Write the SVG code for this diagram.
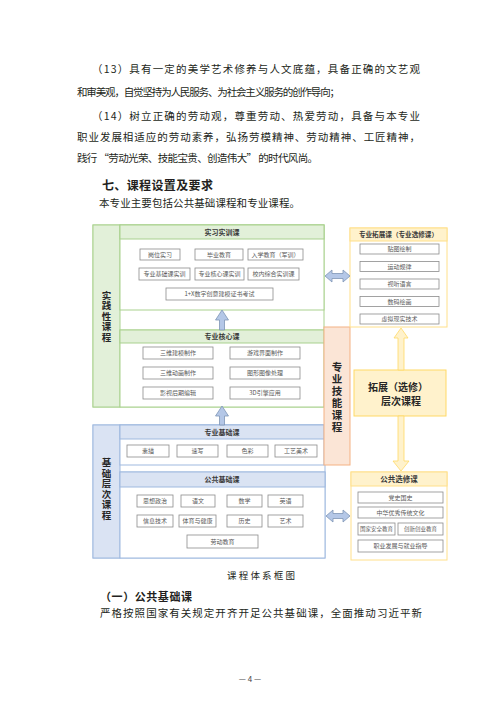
<svg xmlns="http://www.w3.org/2000/svg" width="500" height="707" viewBox="0 0 500 707">
<style>
text{font-family:"Noto Sans CJK SC","Noto Sans",sans-serif}
.body{font-size:10.5px;fill:#231f20}
.bold{font-weight:bold}
.it{font-size:6px;fill:#595959;text-anchor:middle}
.ib{fill:#fff;stroke:#8c8c8c;stroke-width:0.8}
.hdr{font-size:7px;font-weight:bold;fill:#3a3a3a;text-anchor:middle}
.vert{writing-mode:vertical-rl;font-weight:bold;fill:#262626;text-anchor:middle}
.g{stroke:#a9d18e;stroke-width:1}
.b{stroke:#9fb9df;stroke-width:1}
.y{stroke:#ffe08a;stroke-width:1}
.arB{fill:#b4c7e7;stroke:#7f95b5;stroke-width:0.8}
.arY{fill:#fff2cc;stroke:#ffd966;stroke-width:0.8}
</style>
<rect width="500" height="707" fill="#fff"/>

<g id="page-text">
<text class="body" x="92" y="73" textLength="328" lengthAdjust="spacing">（13）具有一定的美学艺术修养与人文底蕴，具备正确的文艺观</text>
<text class="body" x="77" y="96" textLength="263" lengthAdjust="spacing">和审美观，自觉坚持为人民服务、为社会主义服务的创作导向；</text>
<text class="body" x="92" y="120" textLength="328" lengthAdjust="spacing">（14）树立正确的劳动观，尊重劳动、热爱劳动，具备与本专业</text>
<text class="body" x="77" y="141" textLength="343" lengthAdjust="spacing">职业发展相适应的劳动素养，弘扬劳模精神、劳动精神、工匠精神，</text>
<text class="body" x="77" y="162" textLength="241" lengthAdjust="spacing">践行 “劳动光荣、技能宝贵、创造伟大” 的时代风尚。</text>
<text class="body bold" x="102" y="189.5" style="font-size:12px" textLength="111" lengthAdjust="spacing">七、课程设置及要求</text>
<text class="body" x="99" y="207" textLength="201" lengthAdjust="spacing">本专业主要包括公共基础课程和专业课程。</text>
<text class="body" x="227" y="578.5" style="font-size:9.5px" textLength="68" lengthAdjust="spacing">课程体系框图</text>
<text class="body bold" x="100" y="601" style="font-size:11px" textLength="92" lengthAdjust="spacing">（一）公共基础课</text>
<text class="body" x="100" y="617" textLength="322" lengthAdjust="spacing">严格按照国家有关规定开齐开足公共基础课，全面推动习近平新</text>
<text class="body" x="250" y="682" style="font-size:8px;fill:#444" text-anchor="middle">— 4 —</text>
</g>

<g id="practice-group">
<rect class="g" x="93" y="225" width="231" height="182" fill="#fff"/>
<rect class="g" x="93" y="225" width="27" height="182" fill="#e2f0d9"/>
<text class="vert" x="106.5" y="316.5" style="font-size:9.5px;letter-spacing:1px">实践性课程</text>
</g>

<g id="internship">
<rect class="g" x="120" y="225" width="204" height="85" fill="#fff"/>
<rect class="g" x="120" y="225" width="204" height="14" fill="#e2f0d9"/>
<text class="hdr" x="222" y="234.5">实习实训课</text>
<rect class="ib" x="140" y="249" width="40" height="11"/><text class="it" x="160" y="256.7">岗位实习</text>
<rect class="ib" x="195" y="249" width="48" height="11"/><text class="it" x="219" y="256.7">毕业教育</text>
<rect class="ib" x="248" y="249" width="55" height="11"/><text class="it" x="275.5" y="256.7">入学教育（军训）</text>
<rect class="ib" x="139" y="268" width="51" height="12"/><text class="it" x="164.5" y="276.2">专业基础课实训</text>
<rect class="ib" x="195" y="268" width="49" height="12"/><text class="it" x="219.5" y="276.2">专业核心课实训</text>
<rect class="ib" x="248" y="268" width="51" height="12"/><text class="it" x="273.5" y="276.2">校内综合实训课</text>
<rect class="ib" x="166" y="288" width="107" height="12"/><text class="it" x="219.5" y="296.2">1+X数字创意建模证书考试</text>
</g>

<g id="core">
<rect class="g" x="120" y="330" width="204" height="77" fill="#fff"/>
<rect class="g" x="120" y="330" width="204" height="13" fill="#e2f0d9"/>
<text class="hdr" x="222" y="339">专业核心课</text>
<rect class="ib" x="143" y="347" width="70" height="12"/><text class="it" x="178" y="355.2">三维建模制作</text>
<rect class="ib" x="230" y="347" width="70" height="12"/><text class="it" x="265" y="355.2">游戏界面制作</text>
<rect class="ib" x="143" y="367" width="70" height="12"/><text class="it" x="178" y="375.2">三维动画制作</text>
<rect class="ib" x="230" y="367" width="70" height="12"/><text class="it" x="265" y="375.2">图形图像处理</text>
<rect class="ib" x="143" y="387" width="70" height="12"/><text class="it" x="178" y="395.2">影视后期编辑</text>
<rect class="ib" x="230" y="387" width="70" height="12"/><text class="it" x="265" y="395.2">3D引擎应用</text>
</g>

<g id="foundation-group">
<rect class="b" x="93" y="425" width="232" height="133" fill="#fff"/>
<rect class="b" x="93" y="425" width="27" height="133" fill="#dae3f3"/>
<text class="vert" x="106.5" y="489.5" style="font-size:9.5px;letter-spacing:1px">基础层次课程</text>
</g>

<g id="major-basic">
<rect class="b" x="120" y="425" width="204" height="40" fill="#fff"/>
<rect class="b" x="120" y="425" width="204" height="14" fill="#dae3f3"/>
<text class="hdr" x="222" y="434.5">专业基础课</text>
<rect class="ib" x="127" y="445" width="42" height="12"/><text class="it" x="148" y="453.2">素描</text>
<rect class="ib" x="177" y="445" width="41" height="12"/><text class="it" x="197.5" y="453.2">速写</text>
<rect class="ib" x="227" y="445" width="41" height="12"/><text class="it" x="247.5" y="453.2">色彩</text>
<rect class="ib" x="275" y="445" width="42" height="12"/><text class="it" x="296" y="453.2">工艺美术</text>
</g>

<g id="public-basic">
<rect class="b" x="120" y="472" width="205" height="86" fill="#fff"/>
<rect class="b" x="120" y="472" width="205" height="15" fill="#dae3f3"/>
<text class="hdr" x="222" y="482">公共基础课</text>
<rect class="ib" x="137" y="495" width="36" height="12"/><text class="it" x="155" y="503.2">思想政治</text>
<rect class="ib" x="181" y="495" width="34" height="12"/><text class="it" x="198" y="503.2">语文</text>
<rect class="ib" x="227" y="495" width="35" height="12"/><text class="it" x="244.5" y="503.2">数学</text>
<rect class="ib" x="268" y="495" width="35" height="12"/><text class="it" x="285.5" y="503.2">英语</text>
<rect class="ib" x="137" y="515" width="36" height="12"/><text class="it" x="155" y="523.2">信息技术</text>
<rect class="ib" x="179" y="515" width="37" height="12"/><text class="it" x="197.5" y="523.2">体育与健康</text>
<rect class="ib" x="227" y="515" width="35" height="12"/><text class="it" x="244.5" y="523.2">历史</text>
<rect class="ib" x="268" y="515" width="35" height="12"/><text class="it" x="285.5" y="523.2">艺术</text>
<rect class="ib" x="187" y="535" width="71" height="13"/><text class="it" x="222.5" y="543.7">劳动教育</text>
</g>

<g id="skills">
<rect x="324" y="327" width="26" height="138" fill="#fbe5d6" stroke="#f4b183" stroke-width="1"/>
<text class="vert" x="337" y="398" style="font-size:10.5px;letter-spacing:1.5px">专业技能课程</text>
</g>

<g id="major-extension">
<rect class="y" x="350" y="228" width="97" height="99" fill="#fff"/>
<rect class="y" x="350" y="228" width="97" height="13" fill="#fff2cc"/>
<text class="hdr" x="398.5" y="237" style="font-size:6.6px">专业拓展课（专业选修课）</text>
<rect class="ib" x="360" y="244" width="79" height="10"/><text class="it" x="399.5" y="251.2">贴图绘制</text>
<rect class="ib" x="360" y="261.5" width="79" height="10"/><text class="it" x="399.5" y="268.7">运动规律</text>
<rect class="ib" x="360" y="279" width="79" height="10"/><text class="it" x="399.5" y="286.2">视听语言</text>
<rect class="ib" x="360" y="296.5" width="79" height="10"/><text class="it" x="399.5" y="303.7">数码绘画</text>
<rect class="ib" x="360" y="314" width="79" height="10"/><text class="it" x="399.5" y="321.2">虚拟现实技术</text>
</g>

<g id="extension-level">
<rect x="354" y="370" width="92" height="46" fill="#fff2cc" stroke="#ffd966" stroke-width="1"/>
<text x="398" y="391" style="font-size:10px;font-weight:bold;fill:#262626" text-anchor="middle">拓展（选修）</text>
<text x="401" y="404.5" style="font-size:10px;font-weight:bold;fill:#262626" text-anchor="middle">层次课程</text>
</g>

<g id="public-elective">
<rect class="y" x="351" y="472" width="96" height="88" fill="#fff"/>
<rect class="y" x="351" y="472" width="96" height="14" fill="#fff2cc"/>
<text class="hdr" x="399" y="481.5" style="font-size:7.5px">公共选修课</text>
<rect class="ib" x="358" y="492" width="85" height="11"/><text class="it" x="400.5" y="499.7">党史国史</text>
<rect class="ib" x="358" y="507" width="85" height="11"/><text class="it" x="400.5" y="514.7">中华优秀传统文化</text>
<rect class="ib" x="358" y="523" width="37" height="12"/><text class="it" x="376.5" y="531" style="font-size:5.5px">国家安全教育</text>
<rect class="ib" x="398" y="523" width="45" height="12"/><text class="it" x="420.5" y="531" style="font-size:5.5px">创新创业教育</text>
<rect class="ib" x="358" y="540" width="85" height="12"/><text class="it" x="400.5" y="548.2">职业发展与就业指导</text>
</g>

<g id="connectors">
<polygon class="arB" points="222,310 228.5,320 224.5,320 224.5,330 219.5,330 219.5,320 215.5,320"/>
<polygon class="arB" points="222,406 228.5,416 224.5,416 224.5,425 219.5,425 219.5,416 215.5,416"/>
<polygon class="arB" points="325,276 332,270 332,273.5 343,273.5 343,270 350,276 343,282 343,278.5 332,278.5 332,282"/>
<polygon class="arB" points="326,516 333,510 333,513.5 343,513.5 343,510 350,516 343,522 343,518.5 333,518.5 333,522"/>
<polygon class="arY" points="401,328 408,338 404,338 404,370 398,370 398,338 394,338"/>
<polygon class="arY" points="398,416 404,416 404,461 409,461 401,471 393,461 398,461"/>
</g>
</svg>
